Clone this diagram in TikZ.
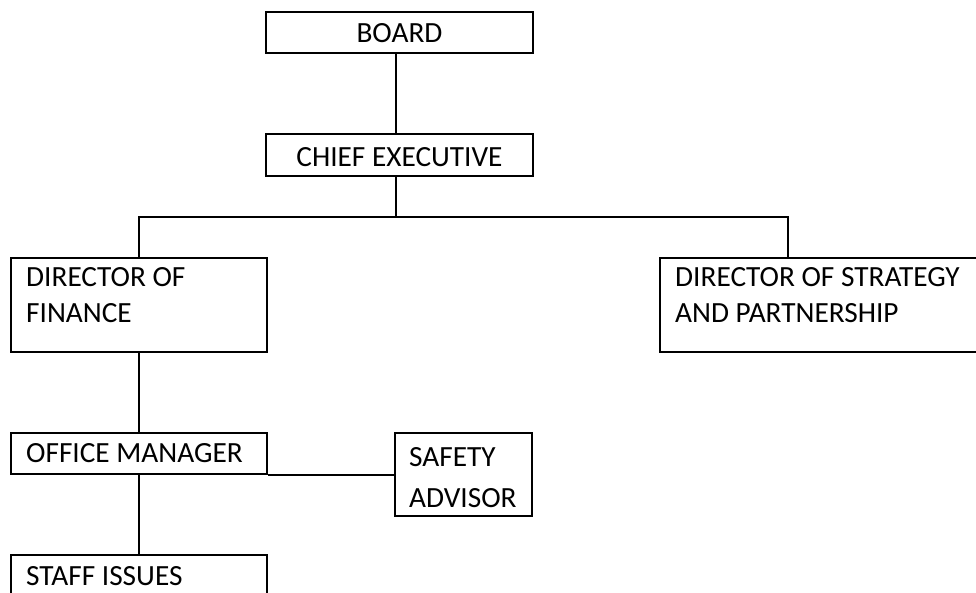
\documentclass[tikz,border=0pt]{standalone}
\usepackage{fontspec}
\setmainfont{Carlito}
\begin{document}
\begin{tikzpicture}[x=1pt,y=-1pt,
  box/.style={draw=black, line width=2.2pt, rectangle, inner sep=0pt},
  lbl/.style={anchor=base west, inner sep=0pt, font=\fontsize{29.3}{34}\selectfont},
  clbl/.style={anchor=base, inner sep=0pt, font=\fontsize{29.3}{34}\selectfont},
  conn/.style={draw=black, line width=2.2pt}]
\path[use as bounding box, clip] (0,0) rectangle (976,593);
\fill[white] (0,0) rectangle (976,593);
% boxes
\node[box, minimum width=267pt, minimum height=41pt] (board) at (399.5,32.5) {};
\node[box, minimum width=267pt, minimum height=42pt] (ceo) at (399.5,155) {};
\node[box, minimum width=256pt, minimum height=94pt] (dof) at (139,305) {};
\node[box, minimum width=340pt, minimum height=94pt] (dos) at (830,305) {};
\node[box, minimum width=256pt, minimum height=41pt] (om) at (139,453.5) {};
\node[box, minimum width=137pt, minimum height=83pt] (safety) at (463.5,474.5) {};
\node[box, minimum width=256pt, minimum height=70pt] (staff) at (139,590) {};
% texts
\node[clbl] (tboard) at (399.5,43) {BOARD};
\node[clbl] (tceo) at (399.5,167) {CHIEF EXECUTIVE};
\node[lbl] (tdof1) at (26,287) {DIRECTOR OF};
\node[lbl] (tdof2) at (26,323) {FINANCE};
\node[lbl] (tdos1) at (675,287) {DIRECTOR OF STRATEGY};
\node[lbl] (tdos2) at (675,323) {AND PARTNERSHIP};
\node[lbl] (tom) at (26,462) {OFFICE MANAGER};
\node[lbl] (tsaf1) at (409,466) {SAFETY};
\node[lbl] (tsaf2) at (409,507) {ADVISOR};
\node[lbl] (tstaff) at (26,585) {STAFF ISSUES};
% connectors
\coordinate (bar) at (396,217);
\coordinate (dosjoin) at (788,217);
\draw[conn] (board.south -| bar) -- (ceo.north -| bar);
\draw[conn] (ceo.south -| bar) -- (bar);
\draw[conn] (dof.north) |- (dosjoin) -- (dos.north -| dosjoin);
\draw[conn] (dof.south) -- (om.north);
\draw[conn] (om.south) -- (staff.north);
\draw[conn] (om.south east) -- (safety.west |- om.south east);
\end{tikzpicture}
\end{document}
